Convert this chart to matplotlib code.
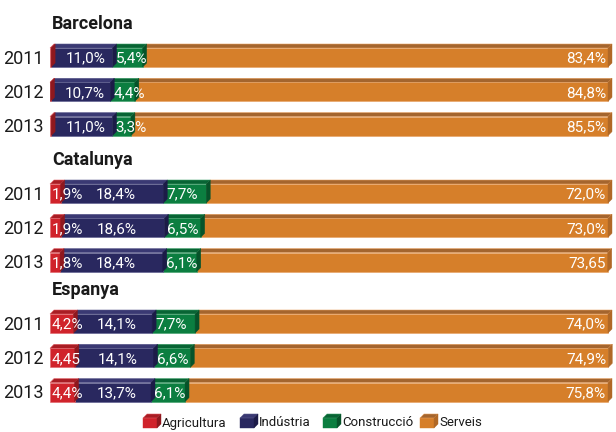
import matplotlib
matplotlib.use("Agg")
import matplotlib.pyplot as plt
from matplotlib.patches import Polygon

# --- data -----------------------------------------------------------------
regions = ["Barcelona", "Catalunya", "Espanya"]
years = ["2011", "2012", "2013"]
sectors = ["Agricultura", "Indústria", "Construcció", "Serveis"]

agricultura = [[0.2, 0.1, 0.2], [1.9, 1.9, 1.8], [4.2, 4.45, 4.4]]
industria = [[11.0, 10.7, 11.0], [18.4, 18.6, 18.4], [14.1, 14.1, 13.7]]
construccio = [[5.4, 4.4, 3.3], [7.7, 6.5, 6.1], [7.7, 6.6, 6.1]]
serveis = [[83.4, 84.8, 85.5], [72.0, 73.0, 73.65], [74.0, 74.9, 75.8]]

# front, top, side shades for each sector
palette = [
    ("#D0232B", "#A91D24", "#8F181E"),
    ("#29285F", "#3A3973", "#1C1B48"),
    ("#0B7E40", "#086434", "#06532A"),
    ("#D67F2A", "#A4652E", "#B06826"),
]
edge_col = ["#E06066", "#5B5A8C", "#3E9E68", "#E8A060"]

plt.rcParams["font.family"] = ["Roboto", "DejaVu Sans"]

W, Hfig = 616, 432
fig = plt.figure(figsize=(W / 100, Hfig / 100), dpi=100)
ax = fig.add_axes([0, 0, 1, 1])

x_left_px, x_right_px = 50, 608
PX = 100.0 / (x_right_px - x_left_px)          # percent per pixel
ax.set_xlim(-x_left_px * PX, (W - x_left_px) * PX)
ax.set_ylim(Hfig, 0)
ax.axis("off")

BAR_H = 19          # px
DX = 4 * PX         # depth, horizontal
DY = 4              # depth, vertical (px)

header_y = [24, 160, 290]
first_gap, row_pitch = 33.5, 34.3


def fmt(v):
    if round(v, 1) == v:
        return f"{v:.1f}%".replace(".", ",")
    return f"{v:.2f}".replace(".", ",")


def faces(x0, x1, yc, h, k, z):
    front, top, side = palette[k]
    yt, yb = yc - h / 2, yc + h / 2
    ax.add_patch(Polygon([(x0, yt), (x1, yt), (x1 + DX, yt - DY), (x0 + DX, yt - DY)],
                         closed=True, fc=top, ec=edge_col[k], lw=0.4, zorder=z))
    ax.add_patch(Polygon([(x1, yt), (x1 + DX, yt - DY), (x1 + DX, yb - DY), (x1, yb)],
                         closed=True, fc=side, ec=side, lw=0.3, zorder=z))


white = dict(color="white", fontsize=11, zorder=30, va="center")

for g, region in enumerate(regions):
    ax.text(2 * PX, header_y[g], region, fontsize=13, fontweight="bold",
            color="#1a1a1a", ha="left", va="center")
    for i, year in enumerate(years):
        yc = header_y[g] + first_gap + i * row_pitch
        vals = [agricultura[g][i], industria[g][i], construccio[g][i], serveis[g][i]]
        lefts = [sum(vals[:k]) for k in range(4)]
        # right-most segment first so each box's side face sits over its neighbour
        for k in range(3, -1, -1):
            z = 5 + (3 - k)
            ax.barh(yc, vals[k], left=lefts[k], height=BAR_H, color=palette[k][0],
                    edgecolor=edge_col[k], linewidth=0.4, zorder=z)
            faces(lefts[k], lefts[k] + vals[k], yc, BAR_H, k, z)

        ax.text(-6 * PX, yc + 1, year, fontsize=13, color="#1a1a1a", ha="right", va="center")
        if vals[0] >= 1:
            ax.text(lefts[0] + 2 * PX, yc + 1, fmt(vals[0]), ha="left", **white)
        ax.text(lefts[1] + vals[1] / 2 + 4 * PX, yc + 1, fmt(vals[1]), ha="center", **white)
        ax.text(lefts[2] + 3 * PX, yc + 1, fmt(vals[2]), ha="left", **white)
        ax.text(lefts[3] + vals[3] - 2 * PX, yc + 1, fmt(vals[3]), ha="right", **white)

# legend: small cubes with labels
legend_x_px = [143, 240, 323, 420]
leg_y = 423
cube_w, cube_h = 14 * PX, 10
for k, name in enumerate(sectors):
    x0 = (legend_x_px[k] - x_left_px) * PX
    ax.add_patch(Polygon([(x0, leg_y - cube_h / 2), (x0 + cube_w, leg_y - cube_h / 2),
                          (x0 + cube_w, leg_y + cube_h / 2), (x0, leg_y + cube_h / 2)],
                         closed=True, fc=palette[k][0], ec=palette[k][0], lw=0.3, zorder=5))
    faces(x0, x0 + cube_w, leg_y, cube_h, k, 5)
    ax.text(x0 + cube_w + DX + 1 * PX, leg_y, name, fontsize=9.5, color="#1a1a1a",
            ha="left", va="center")

fig.savefig("out.png", dpi=100, facecolor="white")
